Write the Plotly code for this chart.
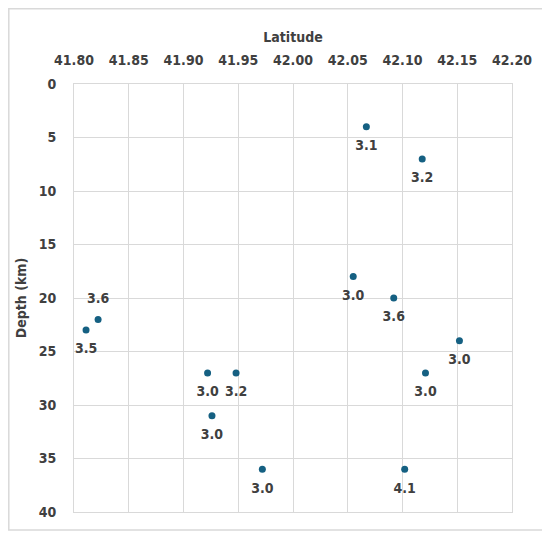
import plotly.graph_objects as go

# earthquake hypocentres: latitude, depth (km), magnitude
latitude = [41.811, 41.822, 41.922, 41.948, 41.926, 41.972,
            42.067, 42.118, 42.055, 42.092, 42.152, 42.121, 42.102]
depth_km = [23, 22, 27, 27, 31, 36, 4, 7, 18, 20, 24, 27, 36]
magnitude = [3.5, 3.6, 3.0, 3.2, 3.0, 3.0, 3.1, 3.2, 3.0, 3.6, 3.0, 3.0, 4.1]
label_pos = ["bottom center", "top center"] + ["bottom center"] * 11

FONT = "DejaVu Sans Condensed, Liberation Sans Narrow, Roboto, sans-serif"
INK = "#404040"
GRID = "#d9d9d9"

fig = go.Figure()
# magnitude labels: an invisible big marker pushes the text a bit further out
fig.add_trace(go.Scatter(
    x=latitude, y=depth_km,
    mode="markers+text",
    text=[f"{m:.1f}" for m in magnitude],
    textposition=label_pos,
    textfont=dict(family=FONT, size=14, color=INK, weight="bold"),
    marker=dict(size=19, opacity=0),
    cliponaxis=False, hoverinfo="skip",
))
fig.add_trace(go.Scatter(
    x=latitude, y=depth_km,
    mode="markers",
    marker=dict(color="#156082", size=7),
    cliponaxis=False,
    hovertemplate="Lat %{x:.3f}<br>Depth %{y} km<extra></extra>",
))

# the page body adds an 8px offset, so the figure is sized to the rest
W, H = 542, 529
L, R, T, B = 66, 38, 76, 25
pw, ph = W - L - R, H - T - B
# chart-area frame (Excel style)
fig.add_shape(type="rect", xref="paper", yref="paper", layer="below",
              x0=(0.8 - L) / pw, x1=(535 - L) / pw,
              y0=(H - B - 522) / ph, y1=(H - B - 0.8) / ph,
              line=dict(color="#d9d9d9", width=1.5), fillcolor="rgba(0,0,0,0)")

axis_font = dict(family=FONT, size=14, color=INK, weight="bold")
fig.update_layout(
    width=W, height=H,
    margin=dict(l=L, r=R, t=T, b=B),
    paper_bgcolor="white", plot_bgcolor="white",
    showlegend=False,
    xaxis=dict(side="top", range=[41.80, 42.20], dtick=0.05, tick0=41.80,
               tickformat=".2f", showgrid=True, gridcolor=GRID,
               showline=True, linecolor=GRID, mirror=True, zeroline=False,
               ticks="", tickfont=axis_font, ticklabelstandoff=12,
               title=dict(text="Latitude", font=axis_font, standoff=6)),
    yaxis=dict(range=[40, 0], dtick=5, tick0=0, showgrid=True, gridcolor=GRID,
               showline=True, linecolor=GRID, mirror=True, zeroline=False,
               ticks="", tickfont=axis_font, ticklabelstandoff=14,
               title=dict(text="Depth (km)", font=axis_font, standoff=8)),
)

fig.write_html("out.html")
